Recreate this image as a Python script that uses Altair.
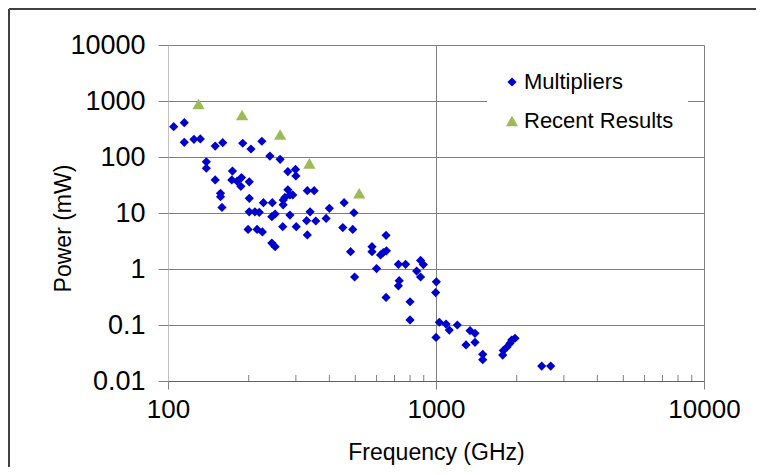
import altair as alt
import pandas as pd

# Multipliers (frequency GHz, power mW)
mult_freq = [105, 115, 115, 125, 132, 139, 139, 150, 150, 160, 157, 157, 159,
             190, 204, 224, 174, 173, 181, 188, 187, 201, 201, 201, 211, 219,
             199, 215, 225, 227, 245, 240, 262, 280, 299, 300, 280, 285, 273,
             292, 269, 285, 244, 251, 268, 301, 244, 251, 331, 351, 269, 339,
             329, 356, 389, 400, 454, 494, 331, 449, 489, 651, 480, 577, 577,
             621, 636, 653, 600, 497, 724, 770, 876, 897, 847, 876, 1003, 997,
             729, 724, 651, 800, 800, 1029, 1090, 1121, 1201, 1000, 1340, 1398,
             1294, 1398, 1494, 1494, 1783, 1774, 1836, 1917, 1972, 1889, 2480, 2679]
mult_power = [348, 410, 183, 207, 210, 82, 63, 39, 157, 180, 22.5, 19.5, 12.6,
              176, 139, 191, 56, 39, 37, 43, 30, 36, 18.3, 10.5, 10.5, 10.3,
              5.1, 5.1, 4.6, 15.3, 15.3, 104, 91, 55, 60, 46, 26, 21, 19,
              21, 14, 9.2, 8.6, 9.6, 5.7, 5.7, 2.9, 2.5, 25, 25, 17, 10.5,
              7.3, 7.2, 8.0, 12.1, 15.3, 10.1, 4.05, 5.5, 5.1, 4.0, 2.04, 2.5, 2.04,
              1.78, 1.97, 2.11, 1.02, 0.72, 1.21, 1.21, 1.42, 1.2, 0.92, 0.72, 0.59, 0.38,
              0.62, 0.5, 0.31, 0.26, 0.123, 0.112, 0.104, 0.081, 0.1, 0.060, 0.079, 0.071,
              0.044, 0.049, 0.030, 0.024, 0.035, 0.029, 0.040, 0.054, 0.058, 0.047, 0.0185, 0.0185]

# Recent results
recent_freq = [130, 189, 262, 337, 517]
recent_power = [884, 562, 252, 77, 22.5]

series_names = ["Multipliers", "Recent Results"]
series_colors = ["#0000CC", "#9BBB59"]
series_shapes = ["diamond", "triangle-up"]

x_ticks = [100, 1000, 10000]
y_ticks = [0.01, 0.1, 1, 10, 100, 1000, 10000]
x_minor = [200, 300, 400, 500, 600, 700, 800, 900,
           2000, 3000, 4000, 5000, 6000, 7000, 8000, 9000]

df = pd.concat([
    pd.DataFrame({"freq": mult_freq, "power": mult_power, "series": series_names[0]}),
    pd.DataFrame({"freq": recent_freq, "power": recent_power, "series": series_names[1]}),
], ignore_index=True)

W, H = 536, 336
FONT = "Liberation Sans"
GRID = "#808080"

xscale = alt.Scale(type="log", domain=[100, 10000], nice=False)
yscale = alt.Scale(type="log", domain=[0.01, 10000], nice=False)

leg = alt.Legend(orient="none", legendX=319, legendY=12, title=None,
                 fillColor="white", padding=14, labelFontSize=22, labelFont=FONT,
                 labelColor="black", rowPadding=17, labelOffset=1,
                 symbolStrokeWidth=0)

points = alt.Chart(df).mark_point(filled=True, opacity=1).encode(
    x=alt.X("freq:Q", scale=xscale, axis=alt.Axis(
        values=x_ticks, format="~g", title="Frequency (GHz)",
        labelFontSize=26, labelFont=FONT, labelColor="black", labelPadding=7,
        labelFlush=False,
        tickSize=8, tickColor=GRID, domainColor="#606060",
        grid=True,
        gridColor={"condition": {"test": "datum.value == 100", "value": "#c0c0c0"}, "value": GRID},
        titleFontSize=23, titleFont=FONT, titleFontWeight="normal", titleColor="black",
        titlePadding=19)),
    y=alt.Y("power:Q", scale=yscale, axis=alt.Axis(
        values=y_ticks, format="~g", title="Power (mW)",
        labelFontSize=27, labelFont=FONT, labelColor="black", labelPadding=13,
        labelFlush=False,
        tickSize=10, tickColor=GRID, domain=False, grid=True, gridColor=GRID,
        titleFontSize=23, titleFont=FONT, titleFontWeight="normal", titleColor="black",
        titleX=-105, titleY=183, titleBaseline="middle", titleAlign="center", titleAngle=270)),
    color=alt.Color("series:N", scale=alt.Scale(domain=series_names, range=series_colors), legend=leg),
    shape=alt.Shape("series:N", scale=alt.Scale(domain=series_names, range=series_shapes), legend=leg),
    size=alt.Size("series:N", scale=alt.Scale(domain=series_names, range=[85, 150]), legend=leg),
)

minor = alt.Chart(pd.DataFrame({"freq": x_minor})).mark_rule(color=GRID, strokeWidth=1).encode(
    x=alt.X("freq:Q", scale=xscale),
    y=alt.value(H), y2=alt.value(H - 6),
)

border_top = alt.Chart(pd.DataFrame({"a": [0]})).mark_rule(color="#404040", strokeWidth=2).encode(
    x=alt.value(-159), x2=alt.value(600), y=alt.value(-36))
border_left = alt.Chart(pd.DataFrame({"a": [0]})).mark_rule(color="#404040", strokeWidth=2).encode(
    x=alt.value(-159), y=alt.value(-36), y2=alt.value(440))

chart = alt.layer(minor, points, border_top, border_left).properties(
    width=W, height=H,
    autosize=alt.AutoSizeParams(type="none"),
    padding={"left": 160, "top": 37, "right": 52, "bottom": 86},
).configure_view(stroke=None).configure(background="white")

chart.save("out.html", embed_options={"renderer": "svg", "actions": False})
